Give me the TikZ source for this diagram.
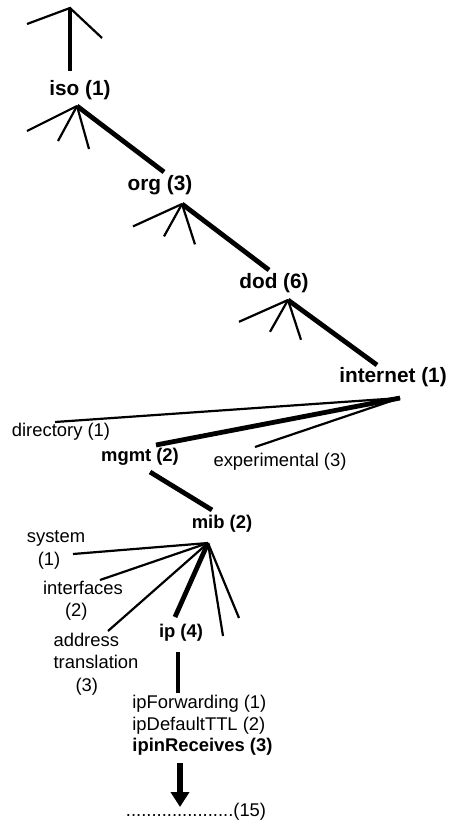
\documentclass[tikz,border=0pt]{standalone}
\usepackage{fontspec}
\setmainfont{Liberation Sans}
\usetikzlibrary{arrows.meta}
\tikzstyle{bigname} = [font=\fontsize{10.4}{12}\selectfont\bfseries, inner sep=0]
\tikzstyle{boldname} = [font=\fontsize{9.2}{11}\selectfont\bfseries, inner sep=0]
\tikzstyle{plainname} = [font=\fontsize{9.2}{11.2}\selectfont, inner sep=0, align=left]
\tikzstyle{twig} = [line width=1.1pt]
\tikzstyle{branch} = [line width=2.4pt]

\begin{document}
\begin{tikzpicture}[x=0.5pt,y=-0.5pt]
    \useasboundingbox (0,0) rectangle (450,820);
    \node[bigname] (iso) at (80,90) {iso (1)};
    \node[bigname] (org) at (160,185) {org (3)};
    \node[bigname] (dod) at (274,283) {dod (6)};
    \node[bigname] (internet) at (393,377) {internet (1)};
    \node[plainname] (directory) at (61,432) {directory (1)};
    \node[boldname] (mgmt) at (140,457) {mgmt (2)};
    \node[plainname] (experimental) at (280,462) {experimental (3)};
    \node[boldname] (mib) at (222,524) {mib (2)};
    \node[plainname] (system) at (56,550) {system\\\hspace*{5.5pt}(1)};
    \node[plainname] (interfaces) at (83,601) {interfaces\\\hspace*{11pt}(2)};
    \node[plainname] (addrtrans) at (96,664) {address\\translation\\\hspace*{11pt}(3)};
    \node[boldname] (ip) at (181,633) {ip (4)};
    \node[plainname, anchor=west] (ipfwd) at (132,704) {ipForwarding (1)};
    \node[plainname, anchor=west] (ipttl) at (132,726) {ipDefaultTTL (2)};
    \node[boldname, anchor=west] (iprecv) at (132,747) {ipinReceives (3)};
    \node[plainname] (rest) at (196,812) {.....................(15)};

    \coordinate (root) at (70,8);
    \coordinate (isotop) at (77,106);
    \coordinate (orgtop) at (182,204);
    \coordinate (dodtop) at (288,300);
    \coordinate (nettop) at (400,398);
    \coordinate (mibtop) at (208,543);

    \draw[twig] (27,24) -- (root) -- (102,38);
    \draw[branch] (root) -- (70,71);
    \foreach \top/\dx/\tx/\ty in {isotop/0/164/172, orgtop/106/269/270, dodtop/212/377/365} {
        \draw[twig] (\top) -- (27+\dx,131+\dx*0.9);
        \draw[twig] (\top) -- (58+\dx,141+\dx*0.9);
        \draw[twig] (\top) -- (89+\dx,149+\dx*0.9);
        \draw[branch] (\top) -- (\tx,\ty);
    }
    \draw[twig] (nettop) -- (55,422);
    \draw[branch] (nettop) -- (156,445);
    \draw[twig] (nettop) -- (255,447);
    \draw[branch] (150,472) -- (212,510);
    \foreach \ex/\ey in {73/554, 100/580, 108/631, 223/636, 239/618}
        \draw[twig] (mibtop) -- (\ex,\ey);
    \draw[branch] (mibtop) -- (175,617);
    \draw[branch] (178,652) -- (178,693);
    \draw[line width=3pt, -{Triangle[width=9pt,length=7.5pt]}] (180,763) -- (180,807);
\end{tikzpicture}
\end{document}
